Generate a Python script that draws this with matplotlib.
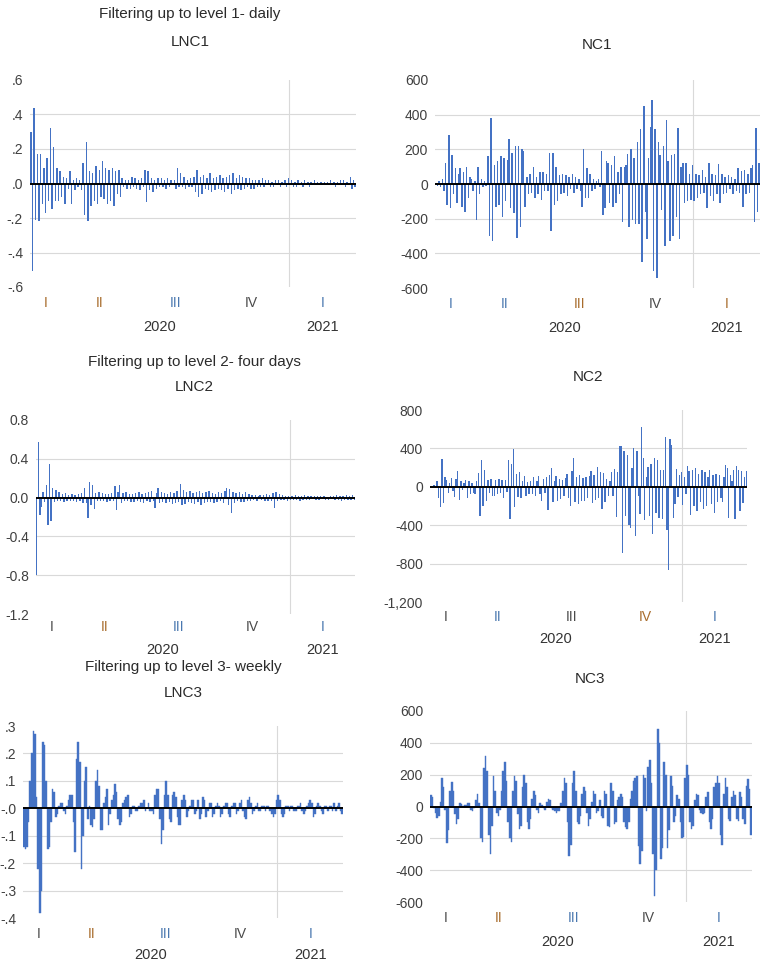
import numpy as np
import matplotlib
matplotlib.use('Agg')
import matplotlib.pyplot as plt
from matplotlib import font_manager

# narrow sans, close to the compressed Calibri look of the original
names = {f.name for f in font_manager.fontManager.ttflist}
fam = 'Liberation Sans Narrow' if 'Liberation Sans Narrow' in names else 'Liberation Sans'
plt.rcParams['font.family'] = [fam, 'DejaVu Sans']

# period covered by the series
start = np.datetime64('2020-02-22')
end = np.datetime64('2021-03-23')
quarter_names = ['I', 'II', 'III', 'IV', 'I']
quarter_starts = ['2020-01-01', '2020-04-01', '2020-07-01', '2020-10-01', '2021-01-01', '2021-04-01']
years = ['2020', '2021']
year_starts = ['2020-01-01', '2021-01-01', '2022-01-01']

# values (one value every second day)
lnc1 = [0.30, -0.51, 0.44, -0.21, 0.17, -0.22, 0.17, -0.12, 0.09, -0.17, 0.15, -0.10, 0.32, -0.15, 0.21, -0.10, 0.09, -0.10, 0.07, -0.08,
        0.04, -0.12, 0.03, -0.03, 0.07, -0.12, 0.02, -0.04, 0.03, -0.02, 0.02, -0.04, 0.12, -0.18, 0.24, -0.22, 0.07, -0.13, 0.06, -0.10,
        0.10, -0.12, 0.08, -0.08, 0.13, -0.09, 0.09, -0.12, 0.08, -0.10, 0.09, -0.13, 0.07, -0.06, 0.08, -0.08, 0.03, -0.02, 0.02, -0.03,
        0.02, -0.03, 0.04, -0.02, 0.03, -0.03, 0.02, -0.04, 0.03, -0.02, 0.08, -0.11, 0.07, -0.04, 0.03, -0.05, 0.02, -0.03, 0.03, -0.02,
        0.03, -0.02, 0.02, -0.03, 0.03, -0.02, 0.02, -0.01, 0.02, -0.03, 0.09, -0.02, 0.06, -0.02, 0.04, -0.03, 0.02, -0.02, 0.03, -0.02,
        0.04, -0.05, 0.08, -0.08, 0.04, -0.06, 0.05, -0.03, 0.03, -0.04, 0.06, -0.05, 0.03, -0.04, 0.04, -0.03, 0.05, -0.04, 0.03, -0.05,
        0.04, -0.03, 0.05, -0.06, 0.06, -0.04, 0.03, -0.03, 0.05, -0.04, 0.04, -0.03, 0.03, -0.02, 0.03, -0.03, 0.02, -0.03, 0.02, -0.02,
        0.02, -0.02, 0.03, -0.02, 0.02, -0.01, 0.02, -0.02, 0.01, -0.02, 0.02, -0.01, 0.02, -0.02, 0.01, -0.01, 0.02, -0.02, 0.03, -0.01,
        0.02, -0.02, 0.01, -0.02, 0.02, -0.01, 0.01, -0.02, 0.02, -0.01, 0.01, -0.02, 0.01, -0.01, 0.02, -0.01, 0.01, -0.01, 0.01, -0.01,
        0.01, -0.01, 0.01, -0.01, 0.02, -0.01, 0.01, -0.02, 0.01, -0.01, 0.02, -0.01, 0.02, -0.02, 0.01, -0.01, 0.04, -0.03, 0.02, -0.02]

nc1 = [5, -10, 20, -20, 30, -40, 120, -120, 280, -140, 170, -60, 95, -110, 60, 90, -130, 70, -160, 100,
       -80, 40, 30, -40, 20, -210, 100, -60, 30, -20, 20, -10, 160, -300, 380, -330, 110, -130, 130, -120,
       160, -190, 150, -100, 140, 260, -140, 180, -170, 220, -310, 220, -250, 200, 190, -130, 40, -60, 60, -50,
       100, -80, 40, -60, 70, -90, 70, -40, 60, -40, 180, -270, 180, -120, 100, -100, 50, -60, 60, -50,
       50, -70, 40, -30, 60, -50, 40, -30, 30, -40, -130, 200, -80, 95, -80, 60, -40, 30, -30, 20,
       30, -20, 190, -180, -140, 130, 120, -110, 110, -130, 160, -110, 70, -60, 100, -220, 100, 110, 175, -250,
       200, -210, 150, -230, 240, -230, 320, -450, 450, -160, -320, 150, 330, 485, -500, 320, -540, 240, 170, -150,
       220, -360, 370, 130, -330, 170, -300, 175, -190, 325, -320, 100, 120, -110, 120, -100, 60, -90, 110, -100,
       60, -80, 50, -60, 80, -50, 40, -140, 120, -70, 60, -100, 50, -60, 115, -110, 55, -60, 40, -50,
       50, -30, 40, -60, 30, -40, 95, -50, 75, -130, 80, -60, 60, -50, 90, 110, -220, 325, -160, 120]

lnc2 = [-0.80, 0.57, -0.18, -0.10, 0.06, -0.05, 0.13, -0.28, 0.35, -0.24, 0.10, -0.05, 0.08, -0.04, 0.06, -0.03, 0.04, -0.05, 0.05, -0.03,
        0.03, -0.04, 0.04, -0.03, 0.03, -0.05, 0.04, -0.03, 0.05, -0.06, 0.10, -0.06, -0.21, 0.16, -0.08, 0.13, -0.12, 0.05, -0.04, 0.06,
        -0.04, 0.05, -0.03, 0.04, -0.05, 0.04, -0.03, 0.05, -0.04, 0.12, -0.13, 0.06, 0.13, -0.06, 0.05, -0.04, 0.06, -0.03, 0.04, -0.05,
        0.04, -0.05, 0.05, -0.03, 0.06, -0.05, 0.04, -0.06, 0.05, -0.04, 0.06, -0.05, 0.07, -0.04, -0.11, 0.05, 0.10, -0.06, 0.06, -0.05,
        0.05, -0.06, 0.04, -0.05, 0.06, -0.07, 0.05, -0.06, 0.07, -0.05, 0.14, -0.08, 0.08, -0.07, 0.06, -0.05, 0.07, -0.06, 0.05, -0.07,
        0.06, -0.05, 0.07, -0.08, 0.05, -0.06, 0.06, -0.05, 0.07, -0.05, 0.05, -0.06, 0.04, -0.05, 0.06, -0.04, 0.05, -0.06, 0.07, 0.10,
        -0.08, 0.09, -0.16, 0.06, -0.06, 0.05, -0.04, 0.06, -0.05, 0.04, -0.05, 0.06, -0.03, 0.04, -0.03, 0.03, -0.02, 0.03, -0.03, 0.02,
        0.03, -0.02, 0.03, -0.03, 0.04, -0.03, 0.03, -0.04, 0.05, -0.11, 0.06, -0.03, 0.04, -0.02, 0.03, -0.02, 0.02, -0.03, 0.02, -0.02,
        0.02, -0.02, 0.03, -0.02, 0.02, -0.03, 0.02, -0.02, 0.03, -0.02, 0.02, -0.02, 0.02, -0.01, 0.02, -0.02, 0.02, -0.02, 0.02, -0.01,
        0.02, -0.02, 0.01, -0.02, 0.02, -0.01, 0.02, -0.02, 0.03, -0.02, 0.02, -0.03, 0.02, -0.02, 0.03, -0.02, 0.02, -0.02, 0.03, -0.02]

nc2 = [10, -10, 15, -10, 60, -120, -210, 290, -170, 100, 70, -60, 40, 90, -40, -110, 80, 160, -140, 60,
       -30, 40, 70, -120, 60, -70, 40, -60, -80, 60, 140, -300, 280, -200, 170, -150, 70, -60, 80, -100,
       -100, 70, -80, 80, -60, 70, -120, 70, -50, 280, -340, 240, 390, -210, 130, -110, 150, -120, 60, 110,
       -100, 50, -80, 60, -70, 100, -100, 60, 110, -80, -150, 80, -60, 100, -240, 120, 200, -160, 60, 110,
       -150, 80, -130, 70, -100, 90, 130, -120, -200, 160, 300, -160, 100, -180, 120, -150, 90, -150, 100, -120,
       110, 160, -170, 120, -140, 210, -120, 150, -230, 140, -160, 80, -100, 60, 150, -100, 190, -310, 150, 420,
       430, -690, 370, -300, 330, -400, -430, 200, 400, -510, 370, -100, -280, 620, 300, -350, 100, 210, -300, 240,
       -490, 300, -270, 280, -320, 180, -340, 170, 520, -450, -870, 500, 440, -320, -180, 190, -110, 120, 150, -190,
       100, -80, 220, 160, -290, 180, -200, 200, -250, 130, -160, 180, -230, 150, -200, 100, 180, -180, 120, -270,
       130, -160, 120, -120, -160, 100, 230, 200, -320, 120, 60, 170, -340, 220, 170, -250, 160, -170, 100, 160]

lnc3 = [-0.14, -0.15, -0.14, -0.05, 0.10, 0.20, 0.28, 0.27, 0.04, -0.22, -0.38, -0.30, 0.24, 0.23, 0.10, -0.15, -0.14, -0.05, 0.07, 0.06,
        -0.03, -0.02, 0.01, 0.02, 0.02, -0.01, -0.02, 0.01, 0.03, 0.05, 0.05, -0.05, -0.16, 0.18, 0.24, 0.17, -0.22, -0.10, 0.10, 0.15,
        -0.04, 0.01, -0.06, -0.07, -0.04, 0.10, 0.14, 0.08, -0.08, -0.08, 0.02, 0.04, 0.07, -0.06, -0.02, 0.03, 0.05, 0.09, 0.06, -0.04,
        -0.06, -0.05, 0.02, 0.03, 0.04, 0.05, -0.03, -0.02, 0.01, 0.01, -0.01, -0.01, 0.01, 0.02, 0.02, 0.03, -0.01, 0.00, 0.02, -0.01,
        -0.01, -0.02, 0.05, 0.07, 0.07, -0.04, -0.13, -0.08, 0.05, 0.10, 0.05, -0.04, -0.05, 0.05, 0.06, 0.04, -0.03, -0.06, -0.06, 0.03,
        0.05, 0.03, -0.03, -0.01, 0.01, 0.03, 0.03, -0.02, -0.01, 0.03, -0.04, -0.02, 0.04, 0.03, -0.03, -0.01, 0.02, 0.02, -0.03, -0.02,
        0.01, 0.02, 0.01, -0.03, -0.02, 0.01, 0.02, 0.02, -0.02, -0.03, 0.01, 0.02, 0.02, -0.02, -0.01, 0.02, 0.03, -0.01, -0.03, -0.04,
        0.03, 0.04, 0.02, -0.02, -0.01, 0.01, 0.02, -0.01, -0.01, 0.01, 0.01, -0.01, 0.01, 0.01, -0.01, -0.02, -0.03, -0.02, 0.03, 0.05,
        0.03, -0.02, -0.03, -0.02, 0.01, 0.01, -0.01, 0.01, 0.01, -0.01, -0.01, 0.01, 0.01, 0.02, -0.01, -0.02, -0.01, 0.01, 0.02, 0.03,
        0.02, -0.03, -0.02, 0.01, 0.02, 0.01, -0.01, -0.02, 0.01, 0.01, -0.01, 0.01, 0.01, -0.01, 0.02, -0.01, 0.01, 0.02, -0.01, -0.02]

nc3 = [70, 60, -10, -40, -70, -60, 30, 180, 120, -20, -230, -150, 100, 155, 100, -50, -110, -80, 20, 15,
       5, 10, 10, 20, 25, -20, -30, -10, 40, 80, 20, -200, -220, 240, 320, 220, -180, -300, -120, 190,
       100, -40, -60, -20, 100, 220, 280, 160, -100, -200, -220, 100, 190, 160, -50, -140, -120, 120, 200, 150,
       -100, -140, -80, 50, 100, 70, -20, -40, 20, 10, -10, -20, 30, 50, 40, -10, -20, -30, -40, -30,
       -30, 20, 100, 180, 150, -100, -310, -240, 150, 225, 100, -100, -110, -60, 80, 120, 100, -40, -120, -80,
       30, 100, 80, -40, -30, 40, -60, -70, 100, 80, -120, -130, 150, 100, -110, -100, 40, 60, 80, 60,
       -100, -130, -140, -100, 50, 100, 160, 180, 190, -250, -360, -280, 200, 180, -30, 250, 290, 150, -300, -560,
       -400, 490, 400, -330, -260, 280, 200, -260, -150, 190, 130, -100, -60, 70, 50, -100, -200, -190, 180, 260,
       200, -100, -140, -120, 40, 80, 70, -20, -40, -50, -40, 60, 90, -100, -140, -80, 120, 150, 190, 150,
       -180, -240, 80, 180, 120, -80, -90, 60, 100, 70, -80, -90, 90, 60, -80, -110, 130, 175, 110, -180]

W, H = 763, 967
BLUE = '#4472C4'
GRID = '#d9d9d9'
OR, BL, DK = '#a86c2c', '#4a78b0', '#4a4a4a'


def dot(v):
    return f'{v:.1f}'.replace('0.', '.')


def one(v):
    return f'{v:.1f}'


def thou(v):
    return f'{v:,.0f}'


panels = [
    dict(vals=lnc1, box=(30, 80, 356, 287), ticks=np.arange(-0.6, 0.61, 0.2), fmt=dot, solid=False,
         offs=(16, 40), qcol=[OR, OR, BL, DK, BL]),
    dict(vals=nc1, box=(435, 80, 760, 288), ticks=np.arange(-600, 601, 200), fmt=thou, solid=False,
         offs=(16, 40), qcol=[BL, BL, OR, DK, OR]),
    dict(vals=lnc2, box=(36, 420, 355, 614), ticks=np.arange(-1.2, 0.81, 0.4), fmt=one, solid=False,
         offs=(13, 36), qcol=[DK, OR, BL, DK, BL]),
    dict(vals=nc2, box=(430, 410, 747, 602), ticks=np.arange(-1200, 801, 400), fmt=thou, solid=False,
         offs=(15, 37), qcol=[DK, BL, DK, OR, BL]),
    dict(vals=lnc3, box=(23, 726, 343, 918), ticks=np.arange(-0.4, 0.31, 0.1), fmt=dot, solid=True,
         offs=(16, 37), qcol=[DK, OR, BL, DK, BL]),
    dict(vals=nc3, box=(430, 711, 752, 902), ticks=np.arange(-600, 601, 200), fmt=thou, solid=True,
         offs=(16, 40), qcol=[DK, OR, BL, DK, BL]),
]

heads = [('Filtering up to level 1- daily', 190, 14), ('LNC1', 190, 42), ('NC1', 597, 45),
         ('Filtering up to level 2- four days', 194, 362), ('LNC2', 194, 387), ('NC2', 588, 377),
         ('Filtering up to level 3- weekly', 183, 667), ('LNC3', 183, 693), ('NC3', 590, 679)]

n_days = int((end - start).astype(int))


def day(s):
    return int((np.datetime64(s) - start).astype(int))


fig = plt.figure(figsize=(W / 100, H / 100), dpi=100)

for p in panels:
    l, t, r, b = p['box']
    ax = fig.add_axes([l / W, 1 - b / H, (r - l) / W, (b - t) / H])
    vals = np.array(p['vals'])
    step = n_days / len(vals)
    x = (np.arange(len(vals)) + 0.5) * step
    if p['solid']:
        ax.bar(x, vals, width=step, color=BLUE, edgecolor=BLUE, linewidth=0.3, zorder=2)
    else:
        ax.bar(x, vals, width=step * 0.85, color=BLUE, linewidth=0, zorder=2)
    ax.axhline(0, color='black', lw=1.4, zorder=3)
    ticks = p['ticks']
    for tk in ticks[1:-1]:
        if abs(tk) > 1e-9:
            ax.axhline(tk, color=GRID, lw=0.8, zorder=0)
    ax.axvline(day('2021-01-01'), color=GRID, lw=0.8, zorder=0)
    ax.set_xlim(0, n_days)
    ax.set_ylim(ticks[0], ticks[-1])
    ax.set_yticks(ticks)
    ax.set_yticklabels([p['fmt'](round(v, 1)) for v in ticks])
    ax.set_xticks([])
    ax.tick_params(axis='y', length=0, pad=5, labelsize=10, labelcolor='#404040')
    for s in ax.spines.values():
        s.set_visible(False)
    # quarter and year labels under the axis
    qo, yo = p['offs']
    for name, a, bb, c in zip(quarter_names, quarter_starts[:-1], quarter_starts[1:], p['qcol']):
        lo, hi = max(day(a), 0), min(day(bb), n_days)
        ax.annotate(name, xy=((lo + hi) / 2, 0), xycoords=('data', 'axes fraction'),
                    xytext=(0, -qo), textcoords='offset pixels', ha='center', va='center',
                    fontsize=10, color=c, annotation_clip=False)
    for name, a, bb in zip(years, year_starts[:-1], year_starts[1:]):
        lo, hi = max(day(a), 0), min(day(bb), n_days)
        ax.annotate(name, xy=((lo + hi) / 2, 0), xycoords=('data', 'axes fraction'),
                    xytext=(0, -yo), textcoords='offset pixels', ha='center', va='center',
                    fontsize=10.5, color='#333333', annotation_clip=False)

for txt, px, py in heads:
    fig.text(px / W, 1 - py / H, txt, ha='center', va='center', fontsize=11, color='#2b2b2b')

fig.savefig('out.png', dpi=100)
